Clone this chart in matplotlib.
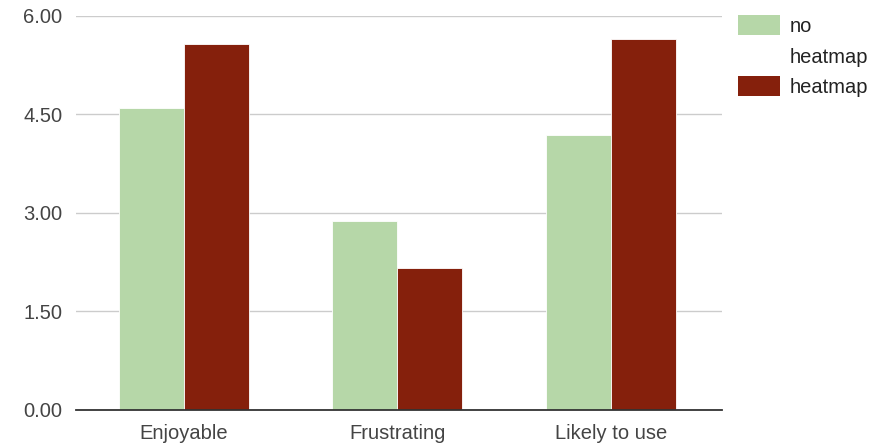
import matplotlib.pyplot as plt
from matplotlib.patches import Rectangle
import numpy as np

plt.rcParams['font.family'] = ['Liberation Sans', 'DejaVu Sans']

categories = ["Enjoyable", "Frustrating", "Likely to use"]
no_heatmap = [4.59, 2.87, 4.19]
heatmap = [5.57, 2.16, 5.64]
colors = ["#b6d7a8", "#85200c"]
yticks = [0.0, 1.5, 3.0, 4.5, 6.0]

fig = plt.figure(figsize=(8.75, 4.47), dpi=100)
ax = fig.add_axes([0.0869, 0.0828, 0.7381, 0.8822])

x = np.arange(len(categories))
w = 0.304
ax.bar(x - w / 2, no_heatmap, w, color=colors[0], edgecolor="white", linewidth=0.6, zorder=3)
ax.bar(x + w / 2, heatmap, w, color=colors[1], edgecolor="white", linewidth=0.6, zorder=3)

ax.set_xlim(-0.503, 2.519)
ax.set_ylim(0, 6)
ax.set_yticks(yticks)
ax.set_yticklabels([f"{v:.2f}" for v in yticks])
ax.set_xticks(x)
ax.set_xticklabels(categories)
ax.tick_params(axis="both", length=0, labelsize=14.5, colors="#444444")
ax.tick_params(axis="y", pad=10)
ax.tick_params(axis="x", pad=10)
ax.grid(axis="y", color="#cccccc", linewidth=1, zorder=0)
for s in ["top", "right", "left"]:
    ax.spines[s].set_visible(False)
ax.spines["bottom"].set_color("#333333")
ax.spines["bottom"].set_linewidth(1.3)
ax.spines["bottom"].set_zorder(4)

# legend on the right, drawn by hand
W, H = 875, 447
def box(x0, y0, x1, y1, c):
    fig.add_artist(Rectangle((x0 / W, 1 - y1 / H), (x1 - x0) / W, (y1 - y0) / H,
                             transform=fig.transFigure, facecolor=c, edgecolor="none"))

box(738, 15, 780, 35, colors[0])
box(738, 76, 780, 96, colors[1])
for txt, yb in [("no", 31.5), ("heatmap", 63), ("heatmap", 93)]:
    fig.text(790 / W, 1 - yb / H, txt, fontsize=14.5, color="#222222", va="baseline")

fig.savefig("out.png", dpi=100)
